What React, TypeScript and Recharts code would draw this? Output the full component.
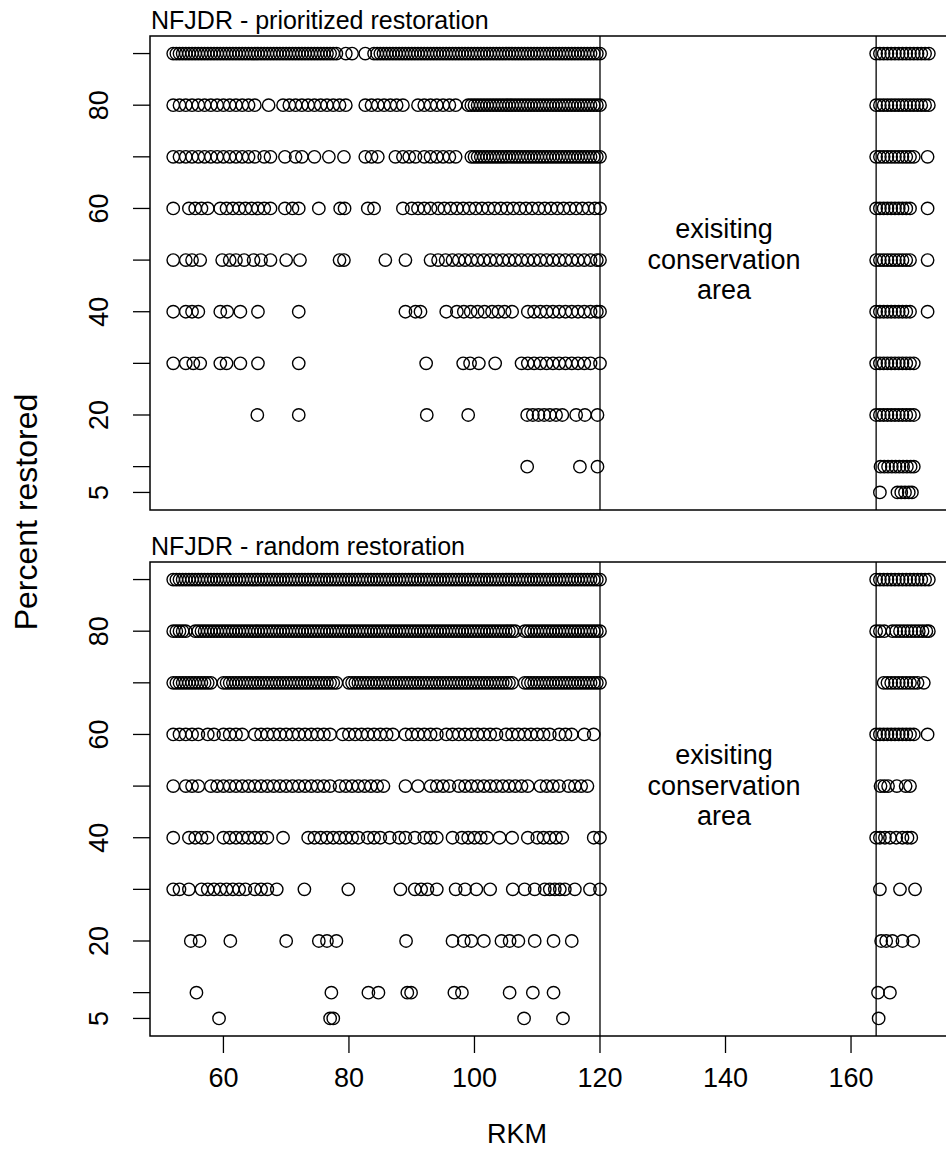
import React from "react";
import { ScatterChart, Scatter, XAxis, YAxis, ReferenceLine, ReferenceArea } from "recharts";

// axis setup (R style, 4% padding around 5..90)
const yTicks = [5, 10, 20, 30, 40, 50, 60, 70, 80, 90];
const yLabels = [5, 20, 40, 60, 80];
const xTicks = [60, 80, 100, 120, 140, 160];
const xDomain = [48.3, 178];
const yDomain = [1.6, 93.4];
const conservationStart = 120;
const conservationEnd = 164;

// NFJDR - prioritized restoration: RKM of each point, one list per percent level
const prio90 = [52, 52.5, 53, 53.5, 54, 54.5, 55, 55.5, 56, 56.5, 57, 57.5, 58, 58.5, 59, 59.5, 60, 60.5, 61, 61.5, 62, 62.5, 63, 63.5, 64, 64.5, 65, 65.5, 66, 66.5, 67, 67.5, 68, 68.5, 69, 69.5, 70, 70.5, 71, 71.5, 72, 72.5, 73, 73.5, 74, 74.5, 75, 75.5, 76, 76.5, 77, 77.5, 78, 79.5, 80.5, 82.6, 84, 84.5, 85, 85.5, 86, 86.5, 87, 87.5, 88, 88.5, 89, 89.5, 90, 90.5, 91, 91.5, 92, 92.5, 93, 93.5, 94, 94.5, 95, 95.5, 96, 96.5, 97, 97.5, 98, 98.5, 99, 99.5, 100, 100.5, 101, 101.5, 102, 102.5, 103, 103.5, 104, 104.5, 105, 105.5, 106, 106.5, 107, 107.5, 108, 108.5, 109, 109.5, 110, 110.5, 111, 111.5, 112, 112.5, 113, 113.5, 114, 114.5, 115, 115.5, 116, 116.5, 117, 117.5, 118, 118.5, 119, 119.5, 120, 164, 164.6, 165.2, 165.8, 166.4, 167, 167.6, 168.2, 168.8, 169.4, 170, 170.6, 171.2, 171.8, 172.4];
const prio80 = [52, 53, 54, 55, 56, 57, 58, 59, 60, 61, 62, 63, 64, 65, 67.2, 69.5, 70.5, 71.5, 72.5, 73.5, 74.5, 75.5, 76.5, 77.5, 78.5, 79.5, 82.6, 83.6, 84.6, 85.6, 86.6, 87.6, 88.6, 91, 92, 93, 94, 95, 96, 97, 99, 99.5, 100, 100.5, 101, 101.5, 102, 102.5, 103, 103.5, 104, 104.5, 105, 105.5, 106, 106.5, 107, 107.5, 108, 108.5, 109, 109.5, 110, 110.5, 111, 111.5, 112, 112.5, 113, 113.5, 114, 114.5, 115, 115.5, 116, 116.5, 117, 117.5, 118, 118.5, 119, 119.5, 120, 164, 164.6, 165.2, 165.8, 166.4, 167, 167.6, 168.2, 168.8, 169.4, 170, 170.6, 171.2, 171.8, 172.4];
const prio70 = [52, 53, 54, 55, 56, 57, 58, 59, 60, 61, 62, 63, 64, 65, 66.5, 67.5, 69.8, 71.5, 72.5, 74.5, 76.8, 79.2, 82.6, 83.6, 84.6, 87.4, 88.6, 89.6, 90.6, 92, 93, 94, 95, 96, 97, 99.5, 100, 100.5, 101, 101.5, 102, 102.5, 103, 103.5, 104, 104.5, 105, 105.5, 106, 106.5, 107, 107.5, 108, 108.5, 109, 109.5, 110, 110.5, 111, 111.5, 112, 112.5, 113, 113.5, 114, 114.5, 115, 115.5, 116, 116.5, 117, 117.5, 118, 118.5, 119, 119.5, 120, 164, 164.6, 165.2, 165.8, 166.4, 167, 167.6, 168.2, 168.8, 169.4, 170, 172.2];
const prio60 = [52, 54.5, 55.5, 56.5, 57.5, 59.5, 60.5, 61.5, 62.5, 63.5, 64.5, 65.5, 66.5, 67.5, 69.8, 71, 72, 75.2, 78.6, 79.3, 83, 84, 88.6, 90, 91, 92, 93, 94.2, 95.2, 96.2, 97.2, 98.2, 99.2, 100.2, 101.2, 102.2, 103.2, 104.2, 105.2, 106.2, 107.2, 108.2, 109.2, 110.2, 111.2, 112.2, 113.2, 114.2, 115.2, 116.2, 117.2, 118.2, 119.2, 120, 164, 164.6, 165.2, 165.8, 166.4, 167, 167.6, 168.2, 168.8, 169.4, 172.2];
const prio50 = [52, 54, 55, 56.3, 59.8, 61, 62, 63.3, 64.8, 66, 67.5, 70, 72.2, 78.5, 79.2, 85.8, 89, 93, 94.2, 95.4, 96.5, 97.5, 98.5, 99.5, 100.5, 101.5, 102.5, 103.5, 104.5, 105.5, 106.5, 107.5, 108.5, 109.5, 110.5, 111.5, 112.5, 113.5, 114.5, 115.5, 116.5, 117.5, 118.5, 119.5, 120, 164, 164.6, 165.2, 165.8, 166.4, 167, 167.6, 168.2, 168.8, 169.4, 172.2];
const prio40 = [52, 54, 55, 56, 59.5, 60.6, 62.7, 65.5, 72, 89, 90.6, 91.4, 95.5, 97.2, 98.3, 99.4, 100.5, 101.6, 102.8, 103.8, 104.8, 106, 108.5, 109.5, 110.5, 111.5, 112.5, 113.5, 114.5, 115.5, 116.5, 117.5, 118.5, 119.5, 120, 164, 164.6, 165.2, 165.8, 166.4, 167, 167.6, 168.2, 168.8, 169.4, 172.2];
const prio30 = [52, 54, 55.2, 56.3, 59.5, 60.5, 62.7, 65.5, 72, 92.3, 98.2, 99.3, 100.7, 103.3, 107.5, 108.5, 109.5, 110.5, 111.5, 112.5, 113.5, 114.5, 115.5, 116.5, 117.5, 118.5, 120, 164, 164.6, 165.2, 165.8, 166.4, 167, 167.6, 168.2, 168.8, 169.4, 170];
const prio20 = [65.4, 72, 92.4, 99, 108.4, 109.3, 110.2, 111.1, 112, 113, 114, 116.2, 117.6, 119.6, 164, 164.6, 165.2, 165.8, 166.4, 167, 167.6, 168.2, 168.8, 169.4, 170];
const prio10 = [108.4, 116.8, 119.6, 164.7, 165.3, 165.9, 166.5, 167.1, 167.7, 168.3, 168.9, 169.5, 170];
const prio5 = [164.6, 167.4, 168, 168.6, 169.2, 169.7];

// NFJDR - random restoration
const rand90 = [52, 52.5, 53, 53.5, 54, 54.5, 55, 55.5, 56, 56.5, 57, 57.5, 58, 58.5, 59, 59.5, 60, 60.5, 61, 61.5, 62, 62.5, 63, 63.5, 64, 64.5, 65, 65.5, 66, 66.5, 67, 67.5, 68, 68.5, 69, 69.5, 70, 70.5, 71, 71.5, 72, 72.5, 73, 73.5, 74, 74.5, 75, 75.5, 76, 76.5, 77, 77.5, 78, 78.5, 79, 79.5, 80, 80.5, 81, 81.5, 82, 82.5, 83, 83.5, 84, 84.5, 85, 85.5, 86, 86.5, 87, 87.5, 88, 88.5, 89, 89.5, 90, 90.5, 91, 91.5, 92, 92.5, 93, 93.5, 94, 94.5, 95, 95.5, 96, 96.5, 97, 97.5, 98, 98.5, 99, 99.5, 100, 100.5, 101, 101.5, 102, 102.5, 103, 103.5, 104, 104.5, 105, 105.5, 106, 106.5, 107, 107.5, 108, 108.5, 109, 109.5, 110, 110.5, 111, 111.5, 112, 112.5, 113, 113.5, 114, 114.5, 115, 115.5, 116, 116.5, 117, 117.5, 118, 118.5, 119, 119.5, 120, 164, 164.6, 165.2, 165.8, 166.4, 167, 167.6, 168.2, 168.8, 169.4, 170, 170.6, 171.2, 171.8, 172.4];
const rand80 = [52, 52.5, 53, 53.5, 54, 55.5, 56, 56.5, 57, 57.5, 58, 58.5, 59, 59.5, 60, 60.5, 61, 61.5, 62, 62.5, 63, 63.5, 64, 64.5, 65, 65.5, 66, 66.5, 67, 67.5, 68, 68.5, 69, 69.5, 70, 70.5, 71, 71.5, 72, 72.5, 73, 73.5, 74, 74.5, 75, 75.5, 76, 76.5, 77, 77.5, 78, 78.5, 79, 79.5, 80, 80.5, 81, 81.5, 82, 82.5, 83, 83.5, 84, 84.5, 85, 85.5, 86, 86.5, 87, 87.5, 88, 88.5, 89, 89.5, 90, 90.5, 91, 91.5, 92, 92.5, 93, 93.5, 94, 94.5, 95, 95.5, 96, 96.5, 97, 97.5, 98, 98.5, 99, 99.5, 100, 100.5, 101, 101.5, 102, 102.5, 103, 103.5, 104, 104.5, 105, 105.5, 106, 106.5, 108, 108.5, 109, 109.5, 110, 110.5, 111, 111.5, 112, 112.5, 113, 113.5, 114, 114.5, 115, 115.5, 116, 116.5, 117, 117.5, 118, 118.5, 119, 119.5, 120, 164, 164.6, 165.3, 166.6, 167.2, 167.8, 168.4, 169, 169.6, 170.2, 170.8, 171.4, 172, 172.4];
const rand70 = [52, 52.5, 53, 53.5, 54, 54.5, 55, 55.5, 56, 56.5, 57, 57.5, 58, 60, 60.5, 61, 61.5, 62, 62.5, 63, 63.5, 64, 64.5, 65, 65.5, 66, 66.5, 67, 67.5, 68, 68.5, 69, 69.5, 70, 70.5, 71, 71.5, 72, 72.5, 73, 73.5, 74, 74.5, 75, 75.5, 76, 76.5, 77, 77.5, 78, 80, 80.5, 81, 81.5, 82, 82.5, 83, 83.5, 84, 84.5, 85, 85.5, 86, 86.5, 87, 87.5, 88, 88.5, 89, 89.5, 90, 90.5, 91, 91.5, 92, 92.5, 93, 93.5, 94, 94.5, 95, 95.5, 96, 96.5, 97, 97.5, 98, 98.5, 99, 99.5, 100, 100.5, 101, 101.5, 102, 102.5, 103, 103.5, 104, 104.5, 105, 105.5, 106, 108, 108.5, 109, 109.5, 110, 110.5, 111, 111.5, 112, 112.5, 113, 113.5, 114, 114.5, 115, 115.5, 116, 116.5, 117, 117.5, 118, 118.5, 119, 119.5, 120, 165.2, 165.8, 166.4, 167, 167.6, 168.2, 168.8, 169.4, 170, 170.6, 171.6];
const rand60 = [52, 53, 54, 55, 56, 57.5, 58.5, 60, 61, 62, 63, 65, 66, 67, 68, 69, 70, 71, 72, 73, 74, 75, 76, 77, 79, 80, 81, 82, 83, 84, 85, 86, 87, 89, 90, 91, 92, 93, 94, 95.5, 96.5, 97.5, 98.5, 99.5, 100.5, 101.5, 102.5, 103.5, 105, 106, 107, 108, 109, 110, 111, 112, 113.5, 114.5, 115.5, 117.5, 119, 164, 164.6, 165.2, 165.8, 166.4, 167, 167.6, 168.2, 168.8, 169.4, 170, 172.2];
const rand50 = [52, 54, 55, 56, 58, 59, 60, 61, 62, 63, 64, 65, 66, 67, 68, 69, 70, 71, 72, 73, 74, 75, 76, 77, 78.5, 79.5, 80.5, 81.5, 82.5, 83.5, 84.5, 85.5, 89, 91, 93, 94, 95, 96, 97.5, 98.5, 99.5, 100.5, 101.5, 102.5, 103.5, 104.5, 105.5, 106.5, 107.5, 108.5, 110.5, 111.5, 112.5, 113.5, 115, 116, 117, 118, 164.7, 165.3, 165.9, 167.3, 168.7, 169.4];
const rand40 = [52, 54.5, 55.5, 56.5, 57.5, 60, 61, 62, 63, 64, 65, 66, 67, 69.5, 73.5, 74.5, 75.5, 76.5, 77.5, 78.5, 79.5, 80.5, 81.5, 83, 84, 85, 86.5, 88, 89, 90.5, 92, 93, 94, 96.5, 98, 99, 100, 101, 102, 104, 106, 108.5, 110, 111, 112, 113, 114, 119, 120, 164, 164.6, 165.4, 166.2, 167.2, 168.2, 169, 169.6];
const rand30 = [52, 53, 54.5, 56.5, 57.5, 58.5, 59.5, 60.5, 61.5, 62.5, 63.5, 65, 66, 67, 68.5, 72.9, 79.9, 88.2, 90.5, 91.5, 92.5, 94, 97, 98.5, 100.3, 102.5, 106.1, 108, 109.6, 111.2, 112, 112.8, 113.6, 114.4, 116, 118.4, 120, 164.6, 167.8, 170.2];
const rand20 = [54.8, 56.2, 61.1, 70, 75.2, 76.5, 78, 89.1, 96.5, 98.3, 99.5, 101.5, 104.3, 105.6, 107, 109.6, 112.6, 115.5, 164.8, 165.6, 166.6, 168.2, 169.9];
const rand10 = [55.7, 77.2, 83.1, 84.7, 89.3, 89.9, 96.8, 98, 105.6, 109.3, 112.6, 164.3, 166.2];
const rand5 = [59.3, 77, 77.5, 107.9, 114.1, 164.4];

const levels = [90, 80, 70, 60, 50, 40, 30, 20, 10, 5];
const prioRows = [prio90, prio80, prio70, prio60, prio50, prio40, prio30, prio20, prio10, prio5];
const randRows = [rand90, rand80, rand70, rand60, rand50, rand40, rand30, rand20, rand10, rand5];

const toPoints = (rows: number[][]) =>
  rows.flatMap((xs, i) => xs.map((x) => ({ x, y: levels[i] })));

const FONT = "'Liberation Sans', Arial, sans-serif";

const Ring = (props: any) => (
  <circle cx={props.cx} cy={props.cy} r={6.2} fill="none" stroke="#000" strokeWidth={1.4} />
);

const YTick = (props: any) => {
  const { y, payload } = props;
  if (!yLabels.includes(payload.value)) return null;
  return (
    <text
      x={99}
      y={y}
      transform={`rotate(-90 99 ${y})`}
      textAnchor="middle"
      dominantBaseline="central"
      fontSize={27}
      fontFamily={FONT}
      fill="#000"
    >
      {payload.value}
    </text>
  );
};

const XTick = (props: any) => {
  const { x, payload } = props;
  return (
    <text x={x} y={547} textAnchor="middle" fontSize={27} fontFamily={FONT} fill="#000">
      {payload.value}
    </text>
  );
};

function Panel({ data, bottom }: { data: { x: number; y: number }[]; bottom: boolean }) {
  return (
    <ScatterChart
      width={1000}
      height={bottom ? 633 : 520}
      margin={bottom ? { top: 22, right: 36, bottom: 77, left: 0 } : { top: 36, right: 36, bottom: 10, left: 0 }}
    >
      <XAxis
        type="number"
        dataKey="x"
        domain={xDomain}
        allowDataOverflow
        ticks={xTicks}
        hide={!bottom}
        height={60}
        axisLine={false}
        tickLine={{ stroke: "#000", strokeWidth: 1.3 }}
        tickSize={17}
        tick={XTick}
      />
      <YAxis
        type="number"
        dataKey="y"
        domain={yDomain}
        allowDataOverflow
        ticks={yTicks}
        width={150}
        axisLine={false}
        tickLine={{ stroke: "#000", strokeWidth: 1.3 }}
        tickSize={17}
        tick={YTick}
        interval={0}
      />
      <ReferenceArea
        x1={xDomain[0]}
        x2={xDomain[1]}
        y1={yDomain[0]}
        y2={yDomain[1]}
        fill="none"
        fillOpacity={0}
        stroke="#000"
        strokeWidth={1.5}
      />
      <ReferenceLine x={conservationStart} stroke="#000" strokeWidth={1.3} />
      <ReferenceLine x={conservationEnd} stroke="#000" strokeWidth={1.3} />
      <Scatter data={data} shape={Ring} isAnimationActive={false} />
    </ScatterChart>
  );
}

export default function App() {
  return (
    <div
      style={{
        position: "fixed",
        left: 0,
        top: 0,
        width: 946,
        height: 1173,
        overflow: "hidden",
        background: "#fff",
      }}
    >
      <div style={{ position: "absolute", left: 0, top: 0 }}>
        <Panel data={toPoints(prioRows)} bottom={false} />
      </div>
      <div style={{ position: "absolute", left: 0, top: 540 }}>
        <Panel data={toPoints(randRows)} bottom />
      </div>
      <svg
        width={946}
        height={1173}
        style={{ position: "absolute", left: 0, top: 0, pointerEvents: "none" }}
        fontFamily={FONT}
        fill="#000"
      >
        <text x={151} y={29} fontSize={25}>NFJDR - prioritized restoration</text>
        <text x={151} y={555} fontSize={25}>NFJDR - random restoration</text>
        <g fontSize={27} textAnchor="middle">
          <text x={724} y={238}>exisiting</text>
          <text x={724} y={269}>conservation</text>
          <text x={724} y={299}>area</text>
          <text x={724} y={764}>exisiting</text>
          <text x={724} y={795}>conservation</text>
          <text x={724} y={825}>area</text>
        </g>
        <text x={517} y={1143} fontSize={27} textAnchor="middle">RKM</text>
        <text
          x={26}
          y={512}
          fontSize={32}
          textAnchor="middle"
          dominantBaseline="central"
          transform="rotate(-90 26 512)"
        >
          Percent restored
        </text>
      </svg>
    </div>
  );
}
